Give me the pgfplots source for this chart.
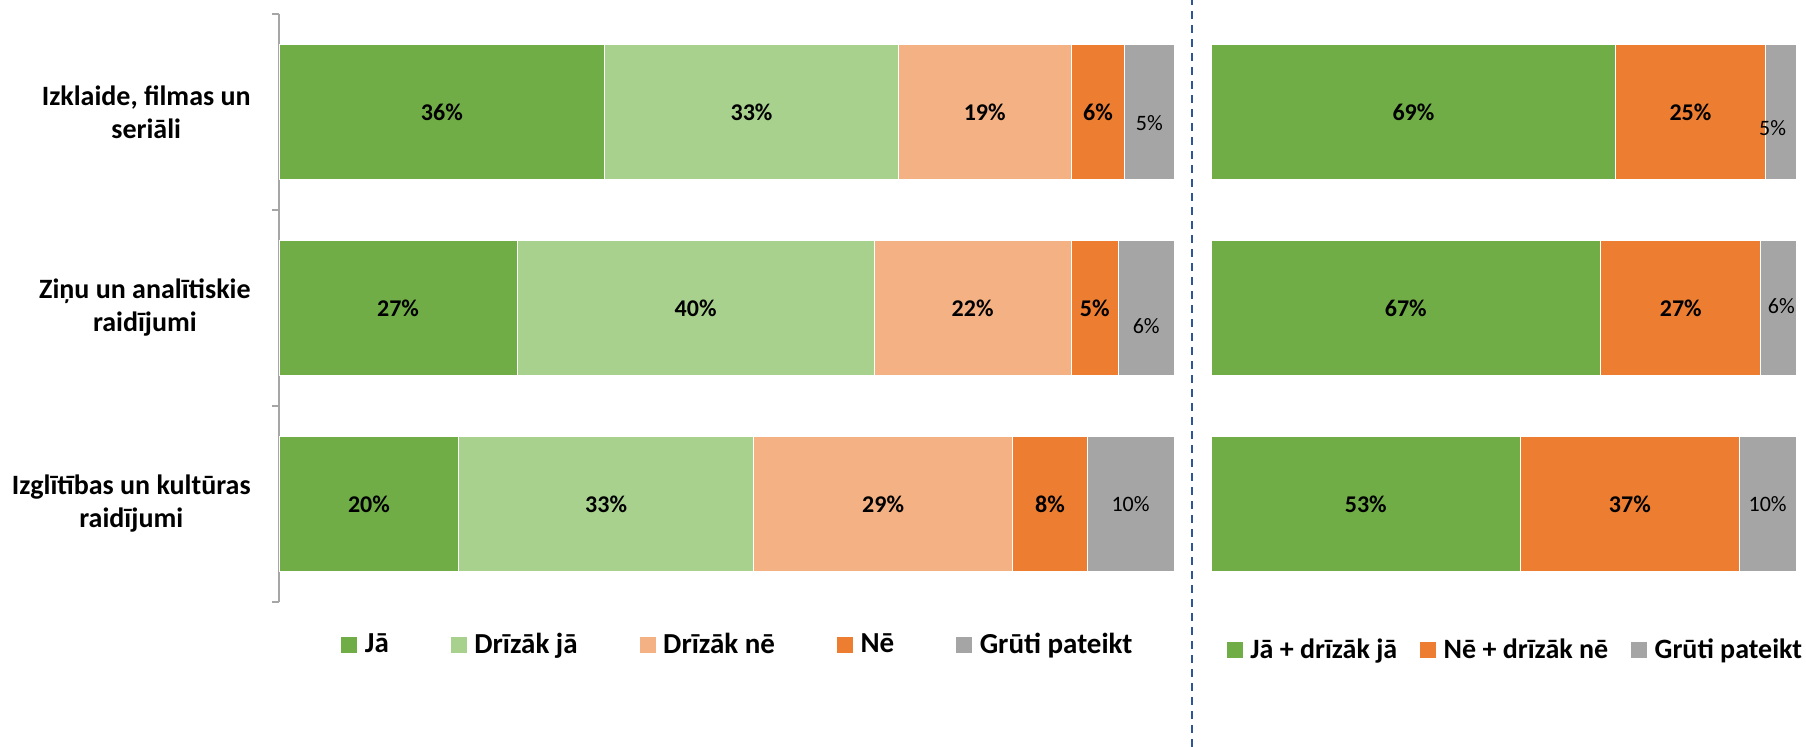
\documentclass[border=0pt]{standalone}
\usepackage{pgfplots}
\pgfplotsset{compat=1.18}
\usepackage{fontspec}
\setmainfont{Carlito}
\definecolor{cJa}{HTML}{70AD47}
\definecolor{cDrJa}{HTML}{A9D18E}
\definecolor{cDrNe}{HTML}{F4B183}
\definecolor{cNe}{HTML}{ED7D31}
\definecolor{cGr}{HTML}{A5A5A5}
\definecolor{axgray}{HTML}{A6A6A6}
\definecolor{dashblue}{HTML}{2F5597}
\pgfplotsset{
  base/.style={scale only axis, height=294bp, xmin=0, xmax=100, ymin=-0.5, ymax=2.5, y dir=reverse, clip=false},
  labb/.style={draw=none, nodes near coords, point meta=explicit symbolic,
     every node near coord/.append style={anchor=center, inner sep=0pt, text=black, font=\fontsize{12bp}{14bp}\selectfont\bfseries}},
  labn/.style={draw=none, nodes near coords, point meta=explicit symbolic,
     every node near coord/.append style={anchor=center, inner sep=0pt, text=black, font=\fontsize{11bp}{13bp}\selectfont}},
  seg/.style={fill=#1, draw=white, line width=0.5bp},
}
\begin{document}
\begin{tikzpicture}
\path[use as bounding box] (0,0) rectangle (903bp,373.5bp);
% ---------------- left chart ----------------
\begin{axis}[base, at={(139.5bp,72.5bp)}, anchor=south west, width=447.5bp,
  xbar stacked, bar width=67.5bp,
  axis x line=none, axis y line*=left,
  y axis line style={draw=axgray, line width=0.6bp},
  ytick={0,1,2},
  yticklabels={{Izklaide, filmas un\\seriāli},{Ziņu un analītiskie\\raidījumi},{Izglītības un kultūras\\raidījumi}},
  yticklabel style={align=center, inner sep=0pt, xshift=-14bp, text=black, font=\fontsize{14bp}{16.5bp}\selectfont\bfseries},
  major tick length=0pt,
  minor ytick={-0.5,0.5,1.5,2.5}, minor tick length=3.5bp, tick align=outside,
  minor tick style={draw=axgray, line width=0.6bp},
  legend image code/.code={\fill[#1,draw=none] (0bp,-4bp) rectangle (8bp,4bp); \path (11.5bp,0bp);},
  legend style={at={(0.5117,-0.0731)}, anchor=center, draw=none, fill=none, inner sep=0pt,
    nodes={inner sep=0pt},
    legend columns=-1, font=\fontsize{14.5bp}{16bp}\selectfont\bfseries,
    /tikz/every even column/.append style={column sep=31bp}},
]
\addplot[seg=cJa]   coordinates {(36.4,0) (26.6,1) (20.1,2)};
\addplot[seg=cDrJa] coordinates {(32.8,0) (39.9,1) (32.9,2)};
\addplot[seg=cDrNe] coordinates {(19.3,0) (22.0,1) (29.0,2)};
\addplot[seg=cNe]   coordinates {(6.0,0) (5.3,1) (8.3,2)};
\addplot[seg=cGr]   coordinates {(5.5,0) (6.2,1) (9.7,2)};
\legend{Jā, Drīzāk jā, Drīzāk nē, Nē, Grūti pateikt}
\end{axis}
\begin{axis}[base, at={(139.5bp,72.5bp)}, anchor=south west, width=447.5bp, hide axis]
\addplot[labb] coordinates {
 (18.2,0) [36\%] (52.8,0) [33\%] (78.85,0) [19\%] (91.5,0) [6\%]
 (13.3,1) [27\%] (46.55,1) [40\%] (77.5,1) [22\%] (91.15,1) [5\%]
 (10.05,2) [20\%] (36.55,2) [33\%] (67.5,2) [29\%] (86.15,2) [8\%]};
\addplot[labn] coordinates {(97.25,0.056) [5\%] (96.9,1.09) [6\%] (95.15,2) [10\%]};
\end{axis}
% ---------------- right chart ----------------
\begin{axis}[base, at={(605.5bp,72.5bp)}, anchor=south west, width=292.5bp,
  xbar stacked, bar width=67.5bp, hide axis,
  legend image code/.code={\fill[#1,draw=none] (0bp,-4bp) rectangle (8bp,4bp); \path (11.5bp,0bp);},
  legend style={at={(0.5188,-0.0816)}, anchor=center, draw=none, fill=none, inner sep=0pt,
    nodes={inner sep=0pt},
    legend columns=-1, font=\fontsize{14bp}{16bp}\selectfont\bfseries,
    /tikz/every even column/.append style={column sep=11.5bp}},
]
\addplot[seg=cJa] coordinates {(69.2,0) (66.6,1) (52.9,2)};
\addplot[seg=cNe] coordinates {(25.5,0) (27.4,1) (37.4,2)};
\addplot[seg=cGr] coordinates {(5.3,0) (6.0,1) (9.7,2)};
\legend{Jā + drīzāk jā, Nē + drīzāk nē, Grūti pateikt}
\end{axis}
\begin{axis}[base, at={(605.5bp,72.5bp)}, anchor=south west, width=292.5bp, hide axis]
\addplot[labb] coordinates {
 (34.6,0) [69\%] (81.95,0) [25\%]
 (33.3,1) [67\%] (80.3,1) [27\%]
 (26.45,2) [53\%] (71.6,2) [37\%]};
\addplot[labn] coordinates {(96.0,0.08) [5\%] (97.5,0.99) [6\%] (95.15,2) [10\%]};
\end{axis}
\draw[dashblue, line width=1bp, dash pattern=on 4bp off 3bp] (596bp,0) -- (596bp,373.5bp);
\end{tikzpicture}
\end{document}
